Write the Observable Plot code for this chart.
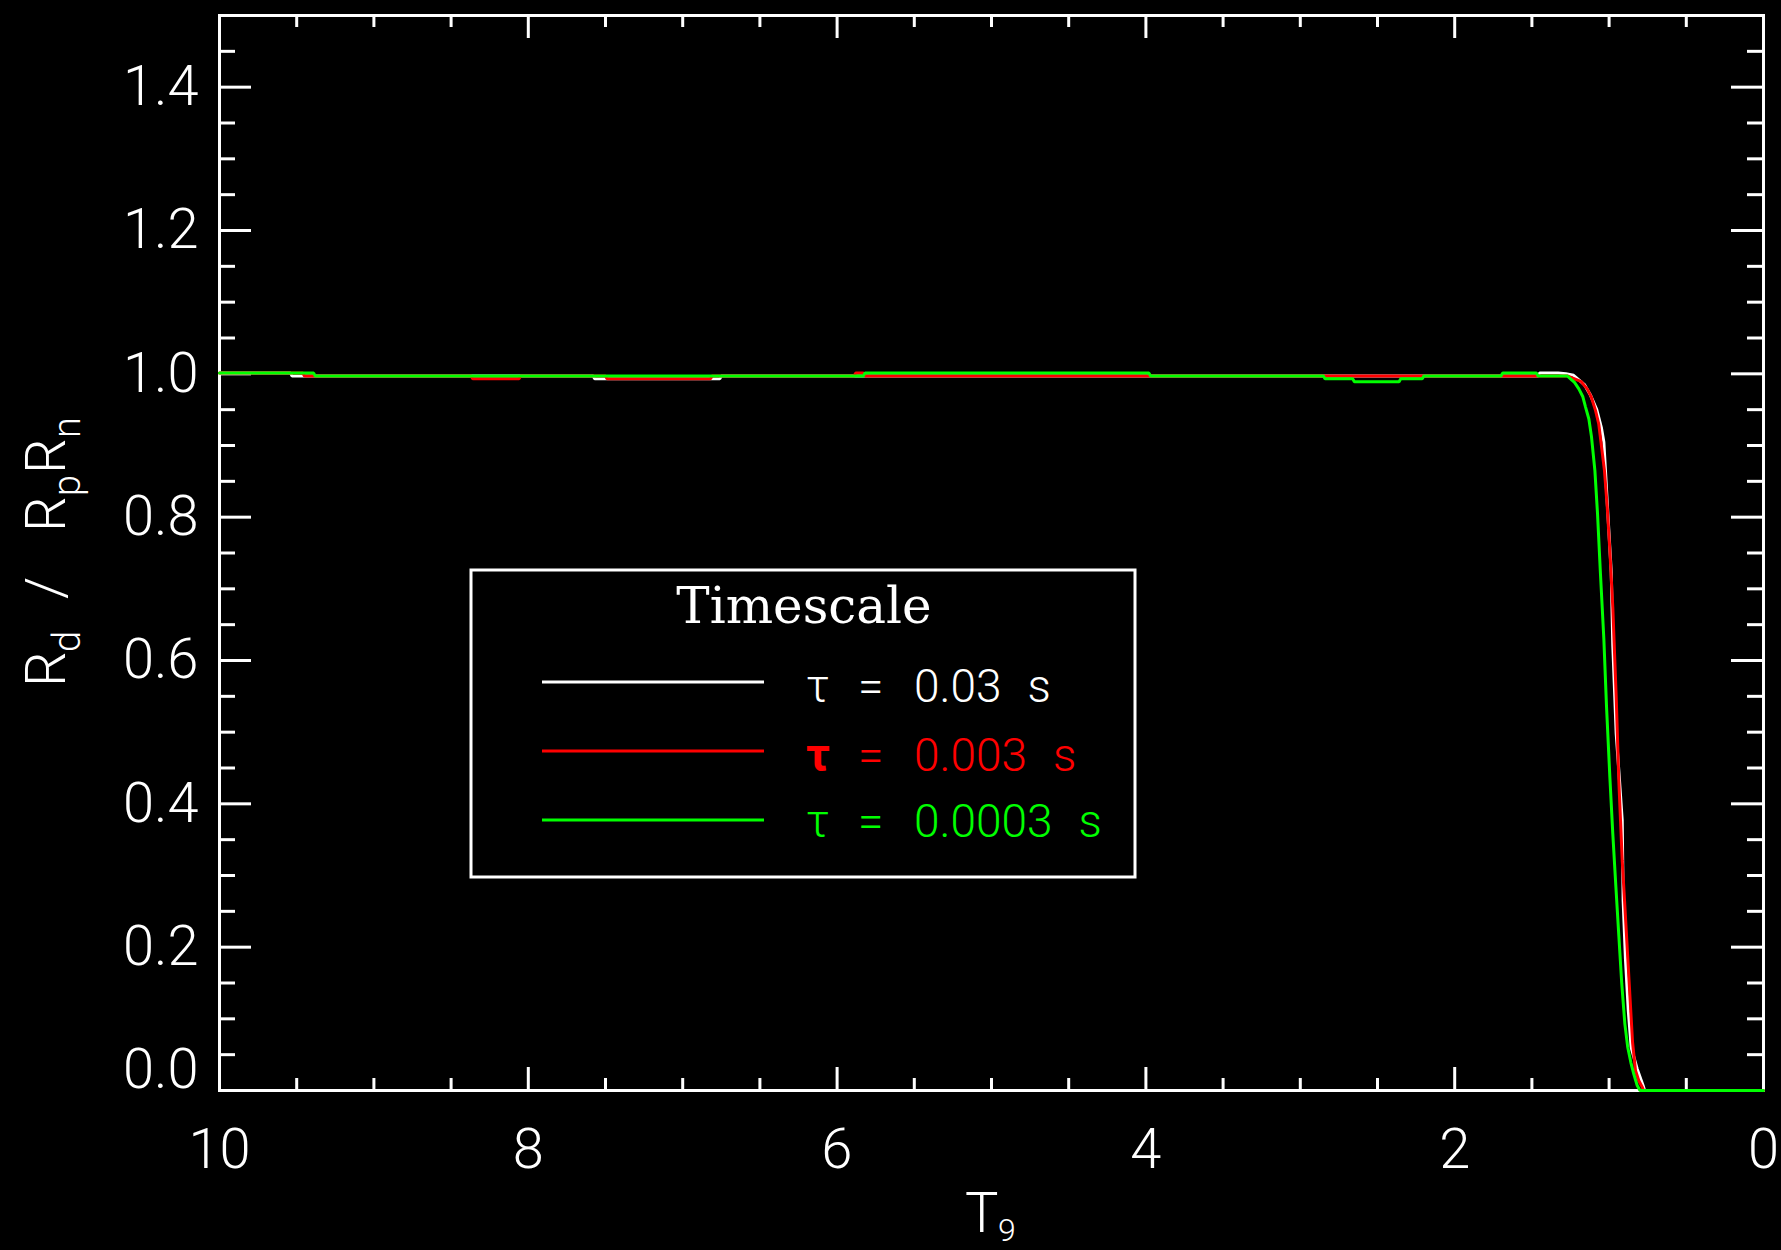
<!DOCTYPE html>
<html>
<head>
<meta charset="utf-8">
<script src="https://cdn.jsdelivr.net/npm/d3@7"></script>
<script src="https://cdn.jsdelivr.net/npm/@observablehq/plot@0.6"></script>
<style>
  html, body { margin: 0; padding: 0; background: #000; }
  #chart svg { display: block; }
</style>
</head>
<body>
<div id="chart"></div>
<script>
// ---- series ----
const seriesNames = ["τ = 0.03 s", "τ = 0.003 s", "τ = 0.0003 s"];
const seriesValueText = ["0.03", "0.003", "0.0003"];
const seriesColors = ["#ffffff", "#ff0000", "#00ff00"];

// tau = 0.03 s (white)
const t9White = [10, 9.54, 9.53, 7.58, 7.57, 6.76, 6.75, 1.46, 1.45, 1.33, 1.28, 1.23, 1.16, 1.12, 1.08, 1.05, 1.034, 1.008, 0.986, 0.976, 0.954, 0.935, 0.915, 0.909, 0.894, 0.876, 0.857, 0.818, 0.780, 0.770, 0];
const rWhite  = [1.001, 1.001, 0.997, 0.997, 0.993, 0.993, 0.997, 0.997, 1.001, 1.001, 1.000, 0.998, 0.985, 0.970, 0.950, 0.925, 0.905, 0.805, 0.723, 0.621, 0.498, 0.440, 0.377, 0.265, 0.183, 0.112, 0.060, 0.030, 0.007, 0, 0];

// tau = 0.003 s (red)
const t9Red = [10, 9.46, 9.45, 8.37, 8.36, 8.06, 8.05, 7.50, 7.49, 6.82, 6.81, 5.89, 5.88, 5.83, 5.82, 1.27, 1.18, 1.142, 1.116, 1.088, 1.067, 1.051, 1.030, 1.012, 0.995, 0.976, 0.954, 0.937, 0.926, 0.915, 0.900, 0.883, 0.866, 0.848, 0.829, 0.808, 0.786, 0.776, 0];
const rRed  = [1.001, 1.001, 0.997, 0.997, 0.993, 0.993, 0.997, 0.997, 0.993, 0.993, 0.997, 0.997, 1.001, 1.001, 0.997, 0.997, 0.989, 0.979, 0.968, 0.949, 0.930, 0.902, 0.865, 0.814, 0.753, 0.674, 0.549, 0.432, 0.377, 0.321, 0.265, 0.200, 0.135, 0.067, 0.028, 0.014, 0.005, 0, 0];

// tau = 0.0003 s (green)
const t9Green = [10, 9.39, 9.38, 5.83, 5.82, 3.98, 3.97, 2.85, 2.84, 2.66, 2.65, 2.36, 2.35, 2.21, 2.20, 1.70, 1.69, 1.47, 1.46, 1.27, 1.25, 1.224, 1.196, 1.170, 1.153, 1.131, 1.114, 1.092, 1.075, 1.056, 1.034, 1.017, 0.995, 0.976, 0.956, 0.937, 0.918, 0.898, 0.879, 0.859, 0.840, 0.818, 0.800, 0];
const rGreen  = [1.001, 1.001, 0.997, 0.997, 1.001, 1.001, 0.997, 0.997, 0.993, 0.993, 0.989, 0.989, 0.993, 0.993, 0.997, 0.997, 1.001, 1.001, 0.997, 0.997, 0.993, 0.988, 0.979, 0.968, 0.954, 0.937, 0.912, 0.865, 0.805, 0.721, 0.630, 0.537, 0.437, 0.358, 0.284, 0.216, 0.149, 0.093, 0.060, 0.039, 0.023, 0.007, 0, 0];

// ---- ticks ----
const xMajorTicks = [10, 8, 6, 4, 2, 0];
const xMinorTicks = [9.5, 9, 8.5, 7.5, 7, 6.5, 5.5, 5, 4.5, 3.5, 3, 2.5, 1.5, 1, 0.5];
const yMajorTicks = [0, 0.2, 0.4, 0.6, 0.8, 1.0, 1.2, 1.4];
const yMinorTicks = [0.05, 0.1, 0.15, 0.25, 0.3, 0.35, 0.45, 0.5, 0.55, 0.65, 0.7, 0.75, 0.85, 0.9, 0.95, 1.05, 1.1, 1.15, 1.25, 1.3, 1.35, 1.45];
const xDomain = [10, 0];
const yDomain = [0, 1.5];

// ---- build table ----
const seriesData = [[t9White, rWhite], [t9Red, rRed], [t9Green, rGreen]];
const rows = [];
seriesData.forEach(([t, r], i) => t.forEach((v, j) => rows.push({series: seriesNames[i], t9: v, r: r[j]})));

// ---- layout ----
const W = 1781, H = 1250;
const mL = 219, mR = 18, mT = 15, mB = 160;
const frameW = W - mL - mR, frameH = H - mT - mB;
const font = "Roboto, 'DejaVu Sans', sans-serif";
const tickStroke = {stroke: "white", strokeWidth: 3};

const plot = Plot.plot({
  width: W, height: H,
  marginLeft: mL, marginRight: mR, marginTop: mT, marginBottom: mB,
  style: {background: "#000", color: "#fff", fontFamily: font},
  x: {domain: xDomain},
  y: {domain: yDomain},
  color: {domain: seriesNames, range: seriesColors},
  marks: [
    Plot.frame({stroke: "white", strokeWidth: 3}),
    // x ticks (bottom & top, inward)
    Plot.ruleX(xMajorTicks, {x: d => d, insetTop: frameH - 23, ...tickStroke}),
    Plot.ruleX(xMajorTicks, {x: d => d, insetBottom: frameH - 23, ...tickStroke}),
    Plot.ruleX(xMinorTicks, {x: d => d, insetTop: frameH - 12, ...tickStroke}),
    Plot.ruleX(xMinorTicks, {x: d => d, insetBottom: frameH - 12, ...tickStroke}),
    // y ticks (left & right, inward)
    Plot.ruleY(yMajorTicks, {y: d => d, insetRight: frameW - 32, ...tickStroke}),
    Plot.ruleY(yMajorTicks, {y: d => d, insetLeft: frameW - 32, ...tickStroke}),
    Plot.ruleY(yMinorTicks, {y: d => d, insetRight: frameW - 16, ...tickStroke}),
    Plot.ruleY(yMinorTicks, {y: d => d, insetLeft: frameW - 16, ...tickStroke}),
    // curves drawn over the axes, as in the original
    Plot.line(rows, {x: "t9", y: "r", z: "series", stroke: "series", strokeWidth: 3, strokeLinejoin: "miter"}),
    // tick labels
    Plot.axisX({ticks: xMajorTicks, tickSize: 0, tickPadding: 38, fontSize: 56, fontWeight: 300, label: null, tickFormat: d => String(d)}),
    Plot.axisY({ticks: yMajorTicks.filter(d => d > 0), tickSize: 0, tickPadding: 21, fontSize: 56, fontWeight: 300, label: null, tickFormat: d3.format(".1f")}),
    Plot.axisY({ticks: yMajorTicks.filter(d => d === 0), tickSize: 0, tickPadding: 21, fontSize: 56, fontWeight: 300, label: null, tickFormat: d3.format(".1f"), dy: -20})
  ]
});

document.getElementById("chart").appendChild(plot);
const svg = d3.select(plot);

// ---- axis titles ----
const yTitle = svg.append("g")
  .attr("transform", "translate(65,687) rotate(-90)")
  .attr("text-anchor", "start")
  .attr("fill", "white").attr("font-family", font).attr("font-weight", 300);
const yParts = [
  {t: "R", x: 0, y: 0, s: 56},
  {t: "d", x: 35, y: 15, s: 38},
  {t: "/", x: 88, y: 0, s: 56},
  {t: "R", x: 155, y: 0, s: 56},
  {t: "p", x: 191, y: 15, s: 38},
  {t: "R", x: 213, y: 0, s: 56},
  {t: "n", x: 249, y: 15, s: 38}
];
yParts.forEach(p => yTitle.append("text").attr("x", p.x).attr("y", p.y).attr("font-size", p.s).text(p.t));

const xTitle = svg.append("g").attr("text-anchor", "start").attr("fill", "white").attr("font-family", font).attr("font-weight", 300);
xTitle.append("text").attr("x", 965).attr("y", 1232).attr("font-size", 56).text("T");
xTitle.append("text").attr("x", 998).attr("y", 1241).attr("font-size", 32).text("9");

// ---- legend ----
const lg = svg.append("g").attr("text-anchor", "start");
lg.append("rect").attr("x", 471).attr("y", 570).attr("width", 664).attr("height", 307)
  .attr("fill", "black").attr("stroke", "white").attr("stroke-width", 3);
lg.append("text").attr("x", 804).attr("y", 623).attr("text-anchor", "middle")
  .attr("font-family", "'DejaVu Serif', 'Liberation Serif', serif").attr("font-size", 50)
  .attr("fill", "white").text("Timescale");
const lineYs = [682, 751, 820];
const textYs = [702, 771, 837];
seriesNames.forEach((name, i) => {
  lg.append("line").attr("x1", 542).attr("x2", 764).attr("y1", lineYs[i]).attr("y2", lineYs[i])
    .attr("stroke", seriesColors[i]).attr("stroke-width", 3);
  const g = lg.append("g").attr("fill", seriesColors[i]).attr("font-family", font)
    .attr("font-size", 46).attr("font-weight", 300);
  g.append("text").attr("x", 806).attr("y", textYs[i]).attr("font-weight", i === 1 ? 700 : 300).text("τ");
  g.append("text").attr("x", 858).attr("y", textYs[i]).text("=");
  g.append("text").attr("x", 914).attr("y", textYs[i])
    .text(seriesValueText[i]).append("tspan").attr("dx", 26).text("s");
});
</script>
</body>
</html>
